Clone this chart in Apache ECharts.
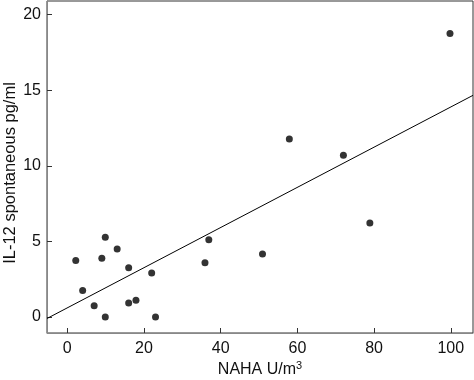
<!DOCTYPE html>
<html>
<head>
<meta charset="utf-8">
<script src="https://cdn.jsdelivr.net/npm/echarts@6/dist/echarts.min.js"></script>
<style>
  html, body { margin: 0; padding: 0; background: #fff; }
  #chart { width: 474px; height: 380px; }
</style>
</head>
<body>
<div id="chart"></div>
<script>
// NAHA (U/m3) vs spontaneous IL-12 (pg/ml)
const nahaValues = [2.2, 4.0, 7.0, 9.0, 9.9, 9.9, 13.0, 16.0, 16.0, 17.9, 22.0, 23.0, 35.9, 36.9, 50.9, 57.9, 72.0, 78.9, 99.8]
const il12Values = [3.73, 1.75, 0.75, 3.89, 5.28, 0.0, 4.5, 3.25, 0.93, 1.1, 2.91, 0.0, 3.58, 5.1, 4.17, 11.77, 10.7, 6.22, 18.75]

// regression line end points, read at the plot edges
const fitX = [-5.3, 105.8]
const fitY = [-0.1, 14.66]

const xTicks = [0, 20, 40, 60, 80, 100]
const yTicks = [0, 5, 10, 15, 20]

const font = 'Liberation Sans, Arial, Helvetica, sans-serif'

const chart = echarts.init(document.getElementById('chart'), null, { renderer: 'canvas' })

chart.setOption({
  animation: false,
  grid: {
    left: 47,
    right: 1,
    top: 1,
    bottom: 47,
    containLabel: false,
    outerBoundsMode: 'none',
    show: true,
    borderColor: '#333',
    borderWidth: 1
  },
  xAxis: {
    type: 'value',
    min: -5.3,
    max: 105.8,
    name: '{n|NAHA U/m}{s|3}',
    nameLocation: 'middle',
    nameGap: 27,
    nameMoveOverlap: false,
    nameTextStyle: {
      rich: {
        n: { fontSize: 16, fontFamily: font, color: '#111' },
        s: { fontSize: 11, fontFamily: font, color: '#111', padding: [0, 0, 8, 0] }
      }
    },
    splitLine: { show: false },
    axisLine: { show: true, onZero: false, lineStyle: { color: '#888', width: 1 } },
    axisTick: { inside: true, length: 5, customValues: xTicks, lineStyle: { color: '#333' } },
    axisLabel: { customValues: xTicks, fontSize: 16, fontFamily: font, color: '#111', margin: 8 }
  },
  yAxis: {
    type: 'value',
    min: -1.06,
    max: 20.9,
    name: 'IL-12 spontaneous pg/ml',
    nameLocation: 'middle',
    nameGap: 28,
    nameMoveOverlap: false,
    nameTextStyle: { fontSize: 16.5, fontFamily: font, color: '#111', padding: [0, 12, 0, 0] },
    splitLine: { show: false },
    axisLine: { show: true, onZero: false, lineStyle: { color: '#888', width: 1 } },
    axisTick: { inside: true, length: 5, customValues: yTicks, lineStyle: { color: '#333' } },
    axisLabel: { customValues: yTicks, fontSize: 16, fontFamily: font, color: '#111', margin: 6 }
  },
  series: [
    {
      type: 'scatter',
      symbol: 'circle',
      symbolSize: 7,
      itemStyle: { color: '#000' },
      data: nahaValues.map((x, i) => [x, il12Values[i]]),
      z: 3
    },
    {
      type: 'line',
      symbol: 'none',
      lineStyle: { color: '#000', width: 1 },
      data: fitX.map((x, i) => [x, fitY[i]]),
      z: 2
    }
  ]
})
</script>
</body>
</html>
